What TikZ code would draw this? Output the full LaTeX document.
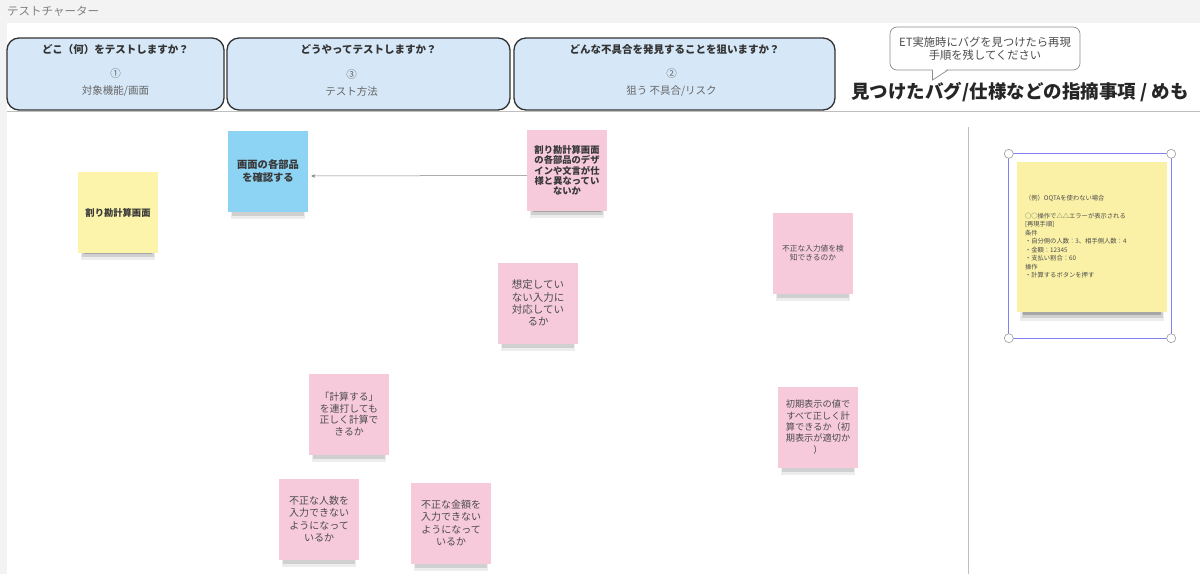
\documentclass[tikz,border=0pt]{standalone}
\usepackage{fontspec}
\setmainfont{Noto Sans CJK JP}
\usetikzlibrary{arrows.meta,positioning,shadows}

\definecolor{canvasgray}{HTML}{F3F3F3}
\definecolor{headblue}{HTML}{D6E8F8}
\definecolor{notepink}{HTML}{F6CADB}
\definecolor{noteyellow}{HTML}{FCF4AA}
\definecolor{memoyellow}{HTML}{FAF1A6}
\definecolor{noteblue}{HTML}{8DD3F4}
\definecolor{inkgray}{HTML}{333333}
\definecolor{selblue}{HTML}{8080F0}

\newcommand{\fsz}[2]{\fontsize{#1}{#2}\selectfont}

\begin{document}
\begin{tikzpicture}[x=1pt,y=-1pt,
    headbox/.style={draw=inkgray, line width=1.3pt, rounded corners=12pt, fill=headblue,
      minimum height=72pt, inner sep=0pt},
    headtitle/.style={font=\fsz{10.5}{12}\bfseries, text=inkgray},
    headsub/.style={font=\fsz{10.5}{17}, text=black!60, align=center},
    noteshadow/.style={
      general shadow={fill=black, opacity=.07, shadow scale=.93, shadow yshift=-11pt},
      general shadow={fill=black, opacity=.12, shadow scale=.89, shadow yshift=-9.5pt},
      general shadow={fill=black, opacity=.2, shadow scale=.85, shadow yshift=-8pt}},
    memoshadow/.style={
      general shadow={fill=black, opacity=.07, shadow scale=.96, shadow yshift=-12.5pt},
      general shadow={fill=black, opacity=.12, shadow scale=.94, shadow yshift=-11pt},
      general shadow={fill=black, opacity=.2, shadow scale=.92, shadow yshift=-10pt}},
    note/.style={minimum width=80pt, minimum height=81pt, inner sep=0pt, align=center, text=black!70, noteshadow},
    boldnote/.style={note, text=black!78},
    rulegray/.style={draw=black!25, line width=0.8pt},
    arrowline/.style={draw=black!50, line width=0.5pt, -{Stealth[length=4pt,width=3.5pt]}}]

    \useasboundingbox (0,0) rectangle (1200,574);
    % Canvas
    \fill[canvasgray] (0,0) rectangle (1200,574);
    \fill[white] (7,23) rectangle (1200,574);
    \node[anchor=west, inner sep=0pt, font=\fsz{11.5}{12}, text=black!50] (charttitle) at (7,11) {テストチャーター};
    \draw[rulegray] (7,111) -- (1200,111);
    \draw[rulegray] (968,127) -- (968,574);

    % Header boxes
    \node[headbox, minimum width=217pt] (what) at (115.5,74) {};
    \node[headbox, minimum width=283pt] (how) at (368.5,74) {};
    \node[headbox, minimum width=321pt] (risk) at (674.5,74) {};
    \node[headtitle, below=4pt of what.north] {どこ（何）をテストしますか？};
    \node[headtitle, below=4pt of how.north] {どうやってテストしますか？};
    \node[headtitle, below=4pt of risk.north] {どんな不具合を発見することを狙いますか？};
    \node[headsub, above=11pt of what.south] {①\\対象機能/画面};
    \node[headsub, above=11pt of how.south, xshift=-17pt] {③\\テスト方法};
    \node[headsub, above=11pt of risk.south, xshift=-3pt] {②\\狙う 不具合/リスク};

    % Hint and memo heading
    \node[draw=black!45, line width=0.7pt, rounded corners=7pt, fill=white, minimum width=190pt,
      minimum height=43pt, align=center, font=\fsz{11.3}{13}, text=black!70] (hint) at (985,48.5)
      {ET実施時にバグを見つけたら再現\\手順を残してください};
    \fill[white] (932.5,69) -- (932.5,79) -- (947,69) -- cycle;
    \draw[black!45, line width=0.7pt] (932.5,70) -- (932.5,80) -- (948,70);
    \node[font=\fsz{18.5}{20}\bfseries, text=black!85] (memohead) at (1020,92) {見つけたバグ/仕様などの指摘事項 / めも};

    % Sticky notes
    \node[boldnote, fill=noteyellow, font=\fsz{9.3}{11}\bfseries] (screen) at (118,212.5) {割り勘計算画面};
    \node[boldnote, fill=noteblue, font=\fsz{10.3}{13}\bfseries] (parts) at (268,171) {画面の各部品\\を確認する};
    \node[boldnote, fill=notepink, font=\fsz{9.3}{10.3}\bfseries] (design) at (567,170.5)
      {割り勘計算画面\\の各部品のデザ\\インや文言が仕\\様と異なってい\\ないか};
    \node[note, fill=notepink, font=\fsz{10.5}{12.3}] (unexpected) at (538,303) {想定してい\\ない入力に\\対応してい\\るか};
    \node[note, fill=notepink, font=\fsz{7.7}{9}] (detect) at (813,253) {不正な入力値を検\\知できるのか};
    \node[note, fill=notepink, font=\fsz{9.8}{11.7}] (repeat) at (349,414) {「計算する」\\を連打しても\\正しく計算で\\きるか};
    \node[note, fill=notepink, font=\fsz{9.2}{11.3}] (initial) at (818,427)
      {初期表示の値で\\すべて正しく計\\算できるか（初\\期表示が適切か\\）};
    \node[note, fill=notepink, font=\fsz{10}{12.5}] (people) at (319,519) {不正な人数を\\入力できない\\ようになって\\いるか};
    \node[note, fill=notepink, font=\fsz{10}{12.5}] (amount) at (451,523) {不正な金額を\\入力できない\\ようになって\\いるか};

    \draw[arrowline, shorten >=3pt] ([yshift=-5pt]design.west) -- ([yshift=-5pt]parts.east);

    % Bug memo (selected)
    \node[minimum width=150pt, minimum height=150pt, inner sep=0pt, text width=134pt, align=left,
      fill=memoyellow, text=black!70, memoshadow, font=\fsz{6.3}{8.5}] (bugmemo) at (1092,237)
      {（例）OQTAを使わない場合\\[9pt]
       ○○操作で△△エラーが表示される\\
       {[再現手順]}\\
       条件\\
       ・自分側の人数：3、相手側人数：4\\
       ・金額：12345\\
       ・支払い割合：60\\
       操作\\
       ・計算するボタンを押す};
    \coordinate (selnw) at ([xshift=-8pt,yshift=8pt]bugmemo.north west);
    \coordinate (selse) at ([xshift=4pt,yshift=-26pt]bugmemo.south east);
    \draw[selblue, line width=0.8pt] (selnw) rectangle (selse);
    \foreach \c in {(selnw), (selse), (selnw -| selse), (selse -| selnw)}
      \draw[fill=white, draw=black!40, line width=0.6pt] \c circle (4.5pt);
\end{tikzpicture}
\end{document}
